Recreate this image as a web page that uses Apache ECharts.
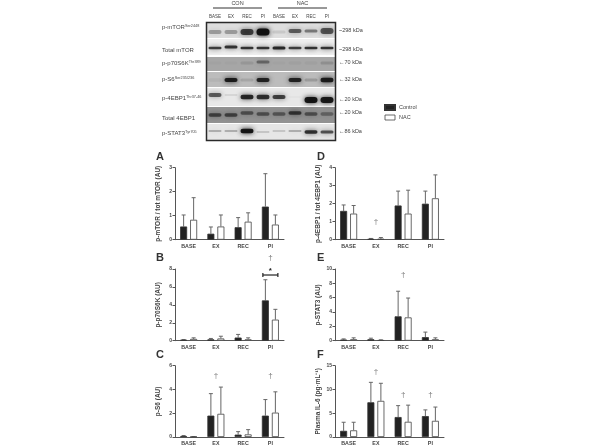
<!DOCTYPE html>
<html><head><meta charset="utf-8">
<style>html,body{margin:0;padding:0;background:#fff}#c{width:600px;height:447px}</style>
<script src="https://cdn.jsdelivr.net/npm/echarts@6/dist/echarts.min.js"></script>
</head><body><div id="c"></div>
<script>
// ---------- data ----------
const phases = ['BASE','EX','REC','PI'];
const lanes = ['BASE','EX','REC','PI','BASE ','EX ','REC ','PI '];
const panelNames = ['A','B','C','D','E','F'];
const yTitles = ['p-mTOR / tot mTOR (AU)','p-p70S6K (AU)','p-S6 (AU)','p-4EBP1 / tot 4EBP1 (AU)','p-STAT3 (AU)','Plasma IL-6 (pg·mL⁻¹)'];
const yMax = [3,8,6,4,10,15];
const yStep = [1,2,2,1,2,5];
const controlA = [0.55,0.25,0.52,1.38], nacA = [0.83,0.55,0.75,0.63];
const controlTopA = [1.03,0.53,0.92,2.75], nacTopA = [1.75,1.03,1.12,1.03];
const controlB = [0.1,0.15,0.35,4.5], nacB = [0.2,0.25,0.15,2.35];
const controlTopB = [0.12,0.25,0.7,6.8], nacTopB = [0.32,0.5,0.32,3.5];
const controlC = [0.08,1.8,0.2,1.8], nacC = [0.02,1.95,0.22,2.05];
const controlTopC = [0.12,3.65,0.45,3.15], nacTopC = [0.03,4.2,0.62,3.8];
const controlD = [1.6,0.04,1.9,2.0], nacD = [1.45,0.05,1.45,2.3];
const controlTopD = [1.93,0.07,2.7,2.7], nacTopD = [1.9,0.12,2.75,3.6];
const controlE = [0.15,0.2,3.4,0.5], nacE = [0.2,0.07,3.25,0.2];
const controlTopE = [0.25,0.35,6.9,1.2], nacTopE = [0.4,0.12,5.95,0.4];
const controlF = [1.3,7.3,4.2,4.4], nacF = [1.4,7.6,3.2,3.4];
const controlTopF = [3.1,11.5,6.6,5.7], nacTopF = [3.1,11.3,6.7,6.3];
const daggers = [[],[[3,9.2]],[[1,5.13],[3,5.13]],[[1,0.98]],[[2,9.16]],[[1,13.7],[2,8.8],[3,8.8]]];
// blot band darkness by lane
const bandsMtor = [.3,.3,.72,.98,.1,.58,.45,.62];
const bandsTotMtor = [.75,.8,.8,.8,.85,.75,.8,.8];
const bandsP70 = [.02,.02,.1,.4,.02,.04,.04,.14];
const bandsS6 = [.05,.9,.12,.85,0,.85,.18,.9];
const bands4e = [.6,.08,.85,.8,.72,.02,.95,.92];
const bandsTot4e = [.6,.6,.5,.5,.45,.7,.5,.35];
const bandsStat = [.25,.25,.95,.15,.15,.25,.8,.65];
const rowLabels = [['p-mTOR','Ser2448'],['Total mTOR',''],['p-p70S6K','Thr389'],['p-S6','Ser235/236'],['p-4EBP1','Thr37-46'],['Total 4EBP1',''],['p-STAT3','Tyr705']];
const sizeLabels = ['~298 kDa','~298 kDa','←70 kDa','←32 kDa','←20 kDa','←20 kDa','←86 kDa'];

// ---------- layout ----------
const controls=[controlA,controlB,controlC,controlD,controlE,controlF];
const nacs=[nacA,nacB,nacC,nacD,nacE,nacF];
const controlTops=[controlTopA,controlTopB,controlTopC,controlTopD,controlTopE,controlTopF];
const nacTops=[nacTopA,nacTopB,nacTopC,nacTopD,nacTopE,nacTopF];
const gridPos=[[175,167.7,109,72],[175,269,109,71.7],[175,365.7,109,71.3],[335,167.7,109,72],[335,269,109,71.7],[335,365.7,109,71.3]];
const letterPos=[[156,151],[156,252],[156,349],[317,151],[317,252],[317,349]];
const OFF=5;
const grids=[],xAxes=[],yAxes=[],series=[],titles=[];
const FONT='"Liberation Sans",Arial,sans-serif';
gridPos.forEach((g,i)=>{
  grids.push({left:g[0],top:g[1],width:g[2],height:g[3]});
  xAxes.push({type:'category',gridIndex:i,data:phases,
    axisLine:{lineStyle:{color:'#555',width:1}},axisTick:{alignWithLabel:true,length:2.5,lineStyle:{color:'#555'}},
    axisLabel:{fontFamily:FONT,fontSize:5.3,fontWeight:'bold',color:'#444',margin:4,interval:0}});
  yAxes.push({type:'value',gridIndex:i,min:0,max:yMax[i],interval:yStep[i],splitLine:{show:false},
    name:yTitles[i],nameLocation:'middle',nameGap:13,nameRotate:90,
    nameTextStyle:{fontFamily:FONT,fontSize:6.5,fontWeight:'bold',color:'#444'},
    axisLine:{show:true,lineStyle:{color:'#555',width:1}},axisTick:{show:true,length:2.5,lineStyle:{color:'#555'}},
    axisLabel:{fontFamily:FONT,fontSize:5,color:'#444',margin:3,fontWeight:'bold'}});
  titles.push({text:panelNames[i],left:letterPos[i][0],top:letterPos[i][1],padding:0,textStyle:{fontFamily:FONT,fontSize:11,fontWeight:'bold',color:'#333'}});
  series.push({type:'bar',name:'Control',xAxisIndex:i,yAxisIndex:i,data:controls[i],barWidth:7,barGap:'43%',
    itemStyle:{color:'#222',borderColor:'#333',borderWidth:.8}});
  series.push({type:'bar',name:'NAC',xAxisIndex:i,yAxisIndex:i,data:nacs[i],barWidth:7,barGap:'43%',
    itemStyle:{color:'#fff',borderColor:'#444',borderWidth:.8}});
  const errs=(means,tops,dx)=>({type:'custom',name:'err',xAxisIndex:i,yAxisIndex:i,silent:true,z:1,clip:false,
    data:means.map((m,k)=>[k,m,tops[k]]),encode:{x:0,y:2},
    renderItem:(p,api)=>{const a=api.coord([api.value(0),api.value(1)]),b=api.coord([api.value(0),api.value(2)]);const x=a[0]+dx;
      const s={stroke:'#666',lineWidth:1,fill:null};
      return {type:'group',children:[
        {type:'line',shape:{x1:x,y1:a[1],x2:x,y2:b[1]},style:s},
        {type:'line',shape:{x1:x-2,y1:b[1],x2:x+2,y2:b[1]},style:s}]};}});
  series.push(errs(controls[i],controlTops[i],-OFF));
  series.push(errs(nacs[i],nacTops[i],OFF));
  if(daggers[i].length) series.push({type:'custom',name:'dagger',xAxisIndex:i,yAxisIndex:i,silent:true,clip:false,
    data:daggers[i],encode:{x:0,y:1},
    renderItem:(p,api)=>{const c=api.coord([api.value(0),api.value(1)]);
      return {type:'text',x:c[0],y:c[1],style:{text:'†',fontFamily:FONT,fontSize:8,fill:'#777',align:'center',verticalAlign:'middle'}};}});
});
// significance bracket on panel B, PI
series.push({type:'custom',name:'bracket',xAxisIndex:1,yAxisIndex:1,silent:true,clip:false,data:[[3,7.33]],encode:{x:0,y:1},
  renderItem:(p,api)=>{const c=api.coord([api.value(0),api.value(1)]);const s={stroke:'#222',lineWidth:1.2};
    return {type:'group',children:[
      {type:'line',shape:{x1:c[0]-7.5,y1:c[1],x2:c[0]+7.5,y2:c[1]},style:s},
      {type:'line',shape:{x1:c[0]-7.5,y1:c[1]-2,x2:c[0]-7.5,y2:c[1]+2},style:s},
      {type:'line',shape:{x1:c[0]+7.5,y1:c[1]-2,x2:c[0]+7.5,y2:c[1]+2},style:s},
      {type:'text',x:c[0],y:c[1]-4,style:{text:'*',fontFamily:FONT,fontSize:8,fontWeight:'bold',fill:'#222',align:'center',verticalAlign:'middle'}}]};}});

// ---------- blot ----------
const bi=gridPos.length;
grids.push({left:207,top:23,width:128,height:117});
xAxes.push({type:'category',gridIndex:bi,position:'top',data:lanes,axisLine:{show:false},axisTick:{show:false},
  axisLabel:{fontFamily:FONT,fontSize:4.5,color:'#444',margin:4,interval:0,formatter:v=>v.trim()}});
yAxes.push({type:'value',gridIndex:bi,min:0,max:117,inverse:true,show:false});
const rowEdges=[[0,15],[16,32],[34,48],[49,64],[65,83],[84,100],[101,117]];
const rowBg=['#dedede','#efefef','#a6a6a6','#bcbcbc','#e8e8e8','#929292','#e6e6e6'];
const rowBands=[bandsMtor,bandsTotMtor,bandsP70,bandsS6,bands4e,bandsTot4e,bandsStat];
const bandCentre=[[9,9,9,9,9,8,8,8],[25,24,25,25,25,25,25,25],[40,40,40,39,40,40,40,40],[57,57,57,57,57,57,57,57],
  [72,72,74,74,74,74,77,77],[92,92,90,91,91,90,91,91],[108,108,108,109,108,108,109,109]];
const bandThick=[[4,4,6,7,3,4,3,6],[2.5,3,2.5,2.5,3,2.5,2.5,2.5],[3,3,3,3,3,3,3,3],[3.5,4,3,4,3,4,3,4.5],[4,2,4.5,4.5,4,2,6,6],[3.5,3.5,3.5,3.5,3.5,3.5,3.5,3.5],[1.8,1.8,4.5,1.8,1.8,1.8,3.5,3]];
series.push({type:'custom',name:'rows',xAxisIndex:bi,yAxisIndex:bi,silent:true,z:1,clip:false,
  data:rowEdges.map((e,i)=>[0,e[0],e[1],i]),encode:{y:[1,2]},
  renderItem:(p,api)=>{const a=api.coord([0,api.value(1)]),b=api.coord([0,api.value(2)]);
    return {type:'rect',shape:{x:207,y:a[1],width:128,height:b[1]-a[1]},style:{fill:rowBg[api.value(3)]}};}});
const bandData=[];
rowBands.forEach((r,ri)=>r.forEach((v,li)=>bandData.push([li,bandCentre[ri][li],v,bandThick[ri][li]])));
series.push({type:'custom',name:'bands',xAxisIndex:bi,yAxisIndex:bi,silent:true,z:2,clip:true,
  data:bandData,encode:{x:0,y:1},
  renderItem:(p,api)=>{const c=api.coord([api.value(0),api.value(1)]);const d=api.value(2),h=api.value(3);
    const col='rgba(15,15,15,'+d+')';
    return {type:'rect',shape:{x:c[0]-6.5,y:c[1]-h/2,width:13,height:h,r:h/2},
      style:{fill:col,shadowBlur:5,shadowColor:col}};}});

// ---------- labels ----------
const graphic=[];
const rowLabelY=[28,51,64,80,99,119,134];
const sizeY=[31,50,63,80,100,113,132];
rowLabels.forEach((r,i)=>graphic.push({type:'text',left:162,top:rowLabelY[i]-4,silent:true,
  style:{text:r[1]?`{a|${r[0]}}{s|${r[1]}}`:`{a|${r[0]}}`,
    rich:{a:{fontFamily:FONT,fontSize:6,fill:'#444',lineHeight:7,verticalAlign:'middle'},s:{fontFamily:FONT,fontSize:3.8,fill:'#444',lineHeight:7,verticalAlign:'top'}}}}));
sizeLabels.forEach((t,i)=>graphic.push({type:'text',left:339,top:sizeY[i]-3.5,silent:true,style:{text:t,fontFamily:FONT,fontSize:5.5,fill:'#444'}}));
graphic.push({type:'rect',silent:true,z:50,shape:{x:206.5,y:22.5,width:129,height:118},style:{fill:'none',stroke:'#2a2a2a',lineWidth:1.5}});
[[213,262,'CON'],[278,327,'NAC']].forEach(g=>{
  graphic.push({type:'line',silent:true,shape:{x1:g[0],y1:8,x2:g[1],y2:8},style:{stroke:'#333',lineWidth:1}});
  graphic.push({type:'text',silent:true,x:(g[0]+g[1])/2,y:3,style:{text:g[2],fontFamily:FONT,fontSize:5.5,fill:'#444',align:'center',verticalAlign:'middle'}});
});

const chart=echarts.init(document.getElementById('c'),null,{renderer:'canvas',width:600,height:447});
chart.setOption({animation:false,backgroundColor:'#fff',title:titles,grid:grids,xAxis:xAxes,yAxis:yAxes,series,graphic,
  legend:{data:[{name:'Control',itemStyle:{color:'#222'}},{name:'NAC',itemStyle:{color:'#fff',borderColor:'#444',borderWidth:.8}}],
    left:384,top:104,orient:'vertical',itemWidth:10,itemHeight:5,itemGap:3.5,padding:0,selectedMode:false,icon:'rect',
    textStyle:{fontFamily:FONT,fontSize:5.5,color:'#444',padding:[0,0,0,-1]}},
  tooltip:{show:false}});
</script></body></html>
